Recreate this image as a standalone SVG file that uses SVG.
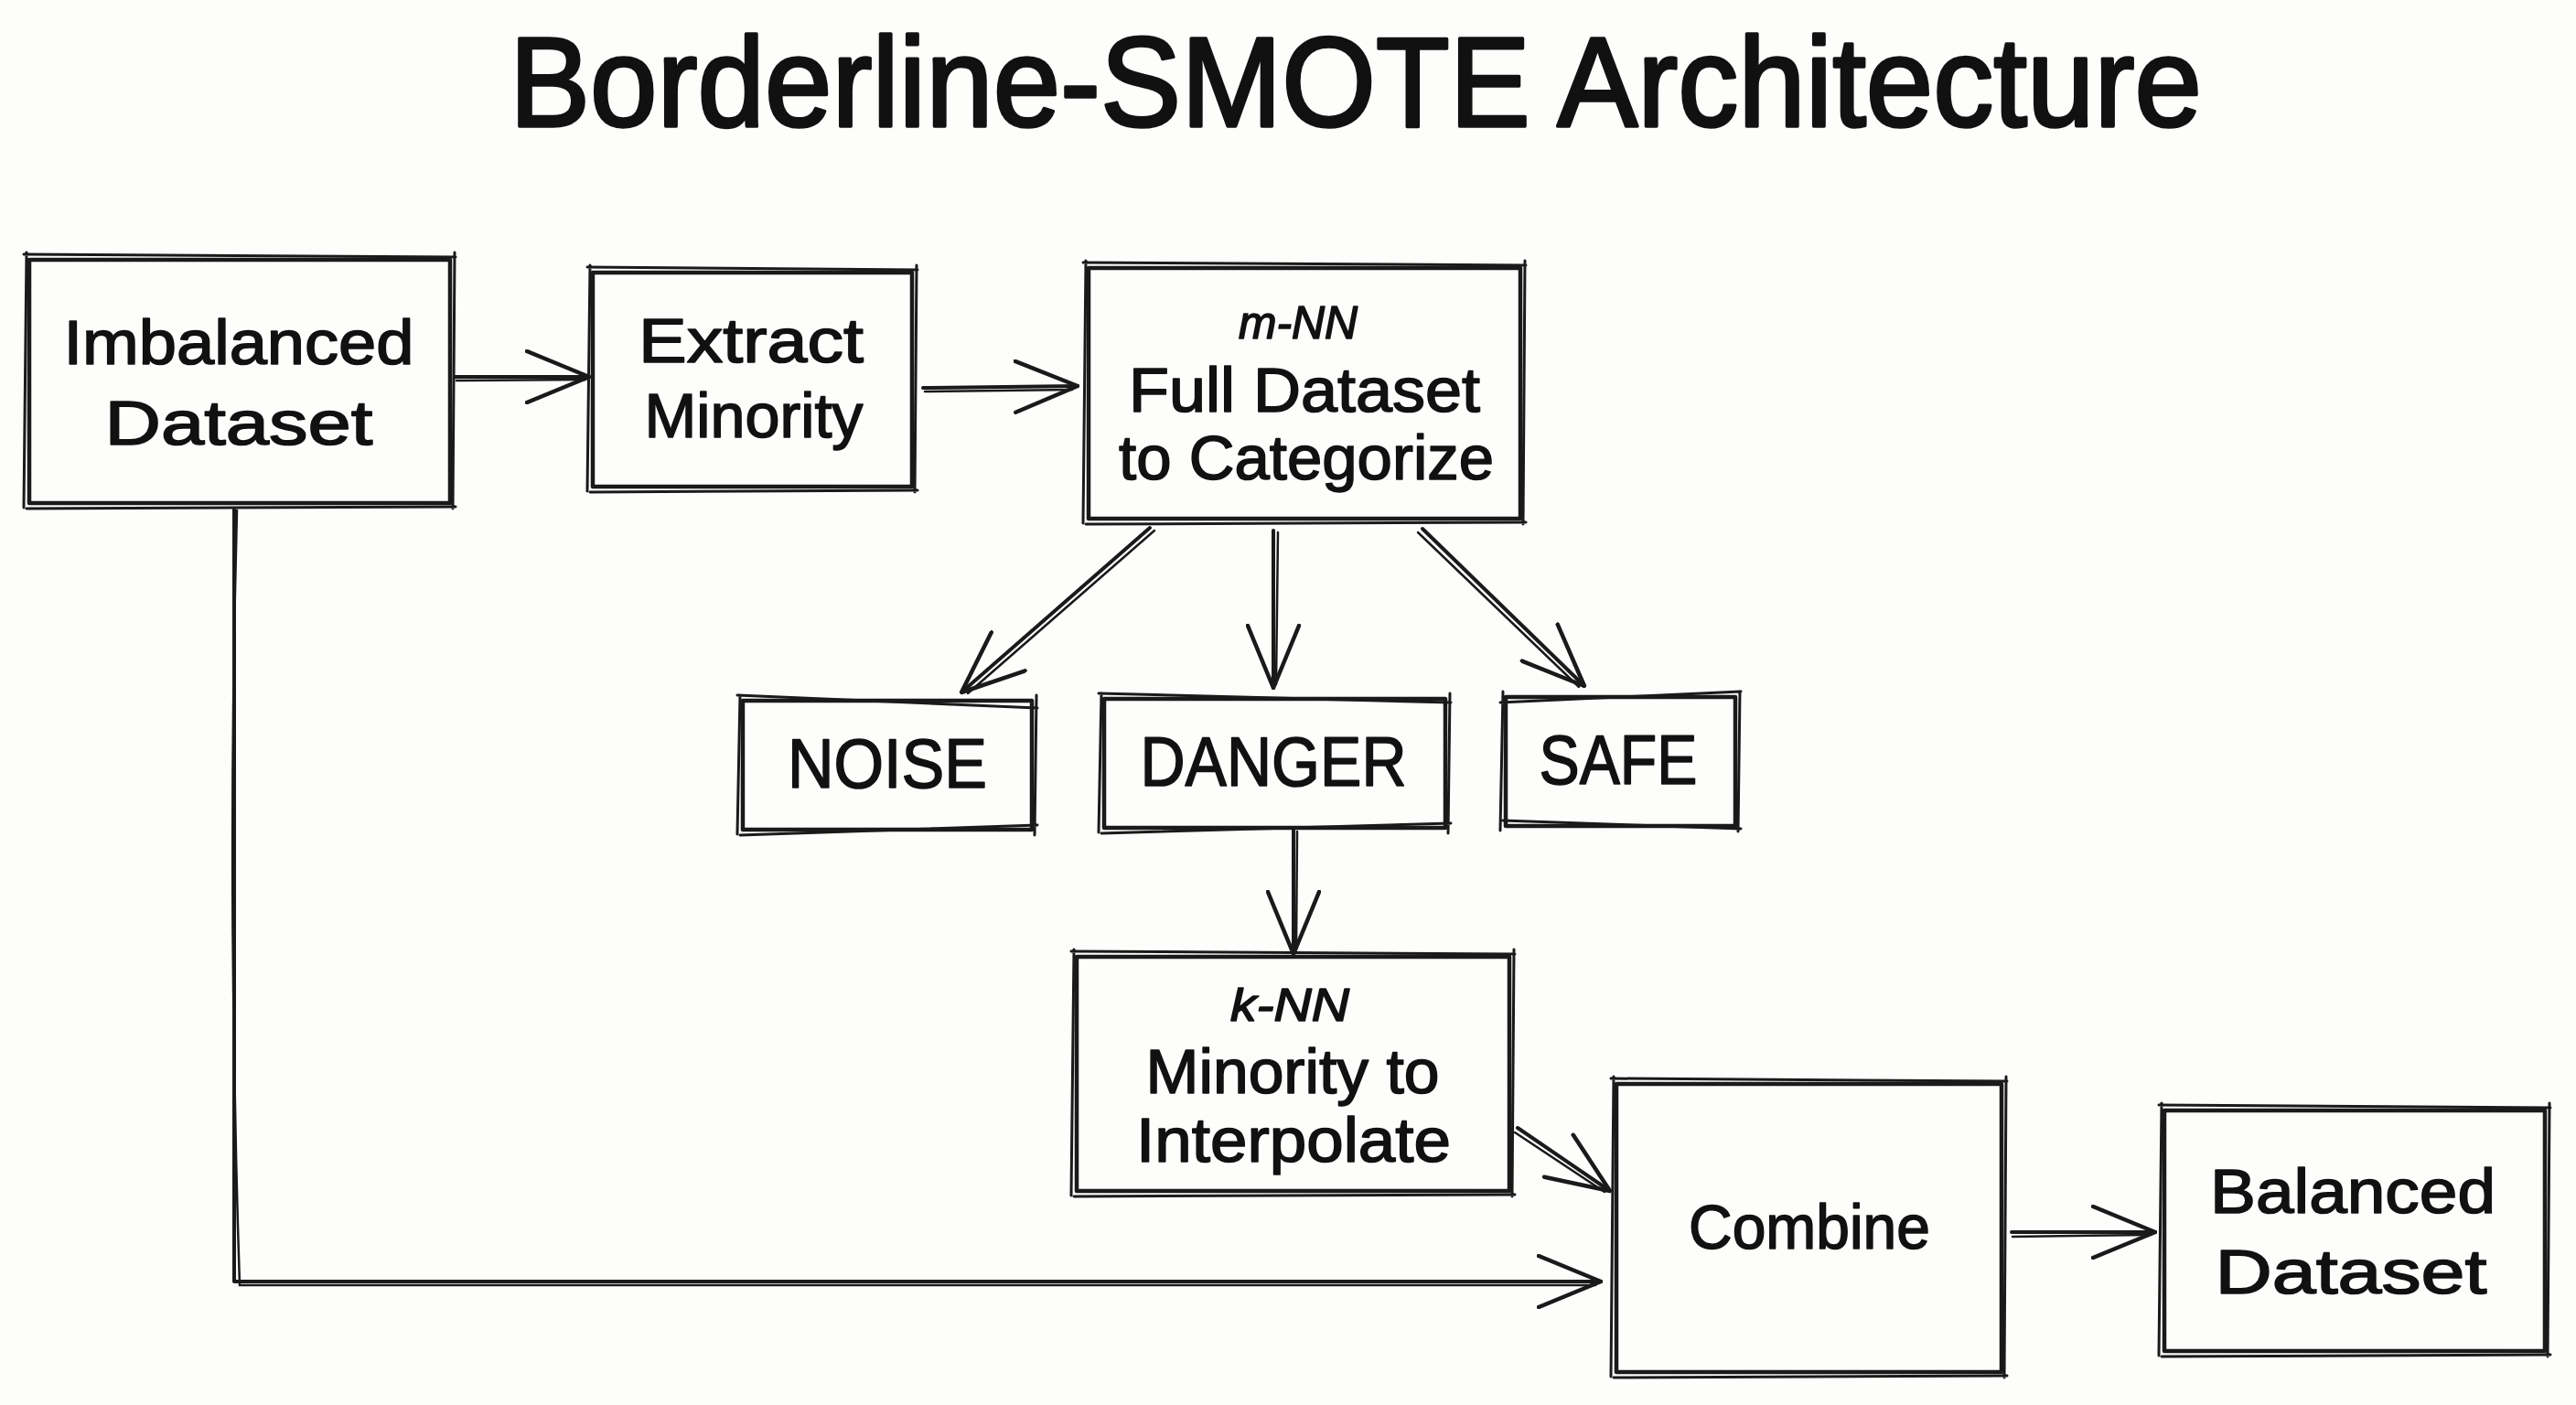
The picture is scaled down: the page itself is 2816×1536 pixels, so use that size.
<svg xmlns="http://www.w3.org/2000/svg" width="2816" height="1536" viewBox="0 0 2816 1536">
<style>
.bg{fill:#fdfdfb}
.b1{fill:none;stroke:#1a1a1a;stroke-width:4.5;stroke-linejoin:round;stroke-linecap:round}
.b2{fill:none;stroke:#1a1a1a;stroke-width:3;stroke-linecap:round}
.c1{fill:none;stroke:#1a1a1a;stroke-width:4;stroke-linecap:round;stroke-linejoin:round}
.c2{fill:none;stroke:#1a1a1a;stroke-width:2.5;stroke-linecap:round}
.t{font-family:"Liberation Sans",Arial,sans-serif;fill:#111;stroke:#111;stroke-width:1.6;stroke-linejoin:round;text-anchor:middle;font-size:68px}
.s{font-size:50px;font-style:italic}
.u{font-size:76px}
.h{font-size:140px;stroke-width:3.5}
</style>
<defs>
<marker id="ah" viewBox="0 0 72 60" refX="70" refY="30" markerWidth="72" markerHeight="60" markerUnits="userSpaceOnUse" orient="auto">
<path d="M2,2 L70,30 L2,58" fill="none" stroke="#1a1a1a" stroke-width="4.5" stroke-linecap="round" stroke-linejoin="round"/>
</marker>
</defs>
<rect class="bg" x="0" y="0" width="2816" height="1536"/>
<text class="t h" x="1482" y="138" textLength="1850" lengthAdjust="spacingAndGlyphs">Borderline-SMOTE Architecture</text>

<g id="connectors">
<path class="c1" d="M497,412 L644,412" marker-end="url(#ah)"/>
<path class="c2" d="M499,416 L640,415"/>
<path class="c1" d="M1009,424 L1178,422" marker-end="url(#ah)"/>
<path class="c2" d="M1011,428 L1172,426"/>
<path class="c1" d="M1257,577 L1051,757" marker-end="url(#ah)"/>
<path class="c2" d="M1262,580 L1058,758"/>
<path class="c1" d="M1392,580 L1392,752" marker-end="url(#ah)"/>
<path class="c2" d="M1397,582 L1395,748"/>
<path class="c1" d="M1555,578 L1732,750" marker-end="url(#ah)"/>
<path class="c2" d="M1550,582 L1726,751"/>
<path class="c1" d="M1414,907 L1414,1043" marker-end="url(#ah)"/>
<path class="c2" d="M1418,909 L1417,1038"/>
<path class="c1" d="M1659,1233 L1760,1302" marker-end="url(#ah)"/>
<path class="c2" d="M1656,1238 L1754,1303"/>
<path class="c1" d="M256,557 L256,1401 L1750,1401" marker-end="url(#ah)"/>
<path class="c2" d="M259,558 Q248,980 262,1405 L1744,1405"/>
<path class="c1" d="M2199,1347 L2356,1347" marker-end="url(#ah)"/>
<path class="c2" d="M2200,1352 L2350,1350"/>
</g>

<g id="imbalanced">
<path class="b1" d="M32,284 L492,284 L492,550 L32,550 Z"/>
<path class="b2" d="M26,278 L498,281 M497,276 L495,556 M498,554 L29,556 M26,555 L29,276"/>
<text class="t" x="261" y="398" textLength="383" lengthAdjust="spacingAndGlyphs">Imbalanced</text>
<text class="t" x="261" y="486" textLength="293" lengthAdjust="spacingAndGlyphs">Dataset</text>
</g>

<g id="extract">
<path class="b1" d="M648,298 L997,298 L997,532 L648,532 Z"/>
<path class="b2" d="M642,292 L1003,295 M1002,290 L1000,538 M1003,536 L645,538 M642,537 L645,290"/>
<text class="t" x="821" y="396" textLength="246" lengthAdjust="spacingAndGlyphs">Extract</text>
<text class="t" x="824" y="478" textLength="239" lengthAdjust="spacingAndGlyphs">Minority</text>
</g>

<g id="mnn">
<path class="b1" d="M1190,293 L1662,293 L1662,567 L1190,567 Z"/>
<path class="b2" d="M1184,287 L1668,290 M1667,285 L1665,573 M1668,571 L1187,573 M1184,572 L1187,285"/>
<text class="t s" x="1419" y="370" textLength="130" lengthAdjust="spacingAndGlyphs">m-NN</text>
<text class="t" x="1426" y="450" textLength="384" lengthAdjust="spacingAndGlyphs">Full Dataset</text>
<text class="t" x="1428" y="524" textLength="410" lengthAdjust="spacingAndGlyphs">to Categorize</text>
</g>

<g id="noise">
<path class="b1" d="M812,766 L1128,766 L1128,907 L812,907 Z"/>
<path class="b2" d="M806,760 L1134,774 M1133,760 L1131,913 M1134,902 L809,913 M806,912 L809,760"/>
<text class="t u" x="970" y="861" textLength="218" lengthAdjust="spacingAndGlyphs">NOISE</text>
</g>

<g id="danger">
<path class="b1" d="M1207,764 L1580,764 L1580,905 L1207,905 Z"/>
<path class="b2" d="M1201,758 L1586,768 M1585,758 L1583,911 M1586,900 L1204,911 M1201,910 L1204,758"/>
<text class="t u" x="1392" y="859" textLength="291" lengthAdjust="spacingAndGlyphs">DANGER</text>
</g>

<g id="safe">
<path class="b1" d="M1646,762 L1897,762 L1897,903 L1646,903 Z"/>
<path class="b2" d="M1640,768 L1903,756 M1902,756 L1900,909 M1903,906 L1643,897 M1640,908 L1643,756"/>
<text class="t u" x="1769" y="857" textLength="173" lengthAdjust="spacingAndGlyphs">SAFE</text>
</g>

<g id="knn">
<path class="b1" d="M1177,1046 L1650,1046 L1650,1302 L1177,1302 Z"/>
<path class="b2" d="M1171,1040 L1656,1043 M1655,1038 L1653,1308 M1656,1306 L1174,1308 M1171,1307 L1174,1038"/>
<text class="t s" x="1410" y="1116" textLength="130" lengthAdjust="spacingAndGlyphs">k-NN</text>
<text class="t" x="1413" y="1195" textLength="321" lengthAdjust="spacingAndGlyphs">Minority to</text>
<text class="t" x="1414" y="1270" textLength="344" lengthAdjust="spacingAndGlyphs">Interpolate</text>
</g>

<g id="combine">
<path class="b1" d="M1767,1185 L2188,1185 L2188,1500 L1767,1500 Z"/>
<path class="b2" d="M1761,1179 L2194,1182 M2193,1177 L2191,1506 M2194,1504 L1764,1506 M1761,1505 L1764,1177"/>
<text class="t" x="1978" y="1365" textLength="264" lengthAdjust="spacingAndGlyphs">Combine</text>
</g>

<g id="balanced">
<path class="b1" d="M2366,1214 L2782,1214 L2782,1477 L2366,1477 Z"/>
<path class="b2" d="M2360,1208 L2788,1211 M2787,1206 L2785,1483 M2788,1481 L2363,1483 M2360,1482 L2363,1206"/>
<text class="t" x="2572" y="1326" textLength="312" lengthAdjust="spacingAndGlyphs">Balanced</text>
<text class="t" x="2570" y="1414" textLength="297" lengthAdjust="spacingAndGlyphs">Dataset</text>
</g>
</svg>
